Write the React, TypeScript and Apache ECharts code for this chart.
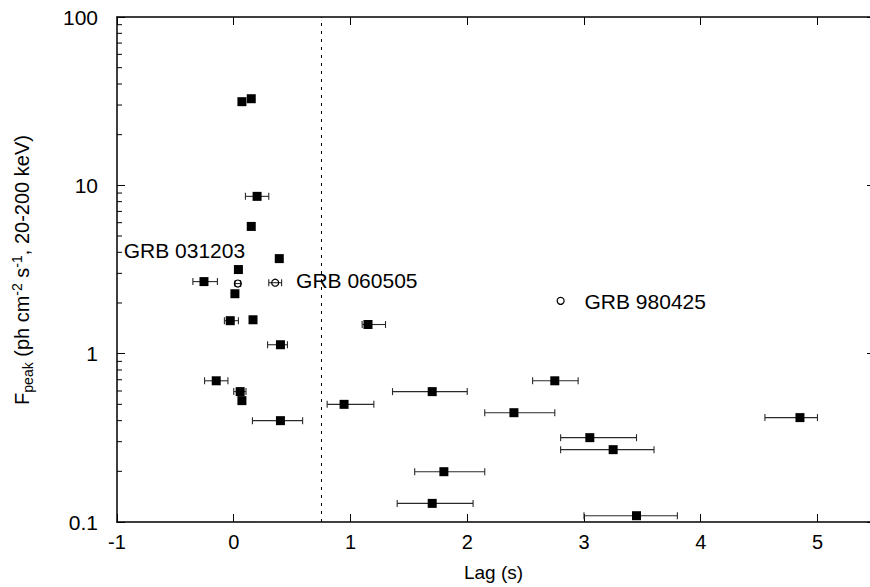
import React, { useEffect, useRef } from "react";
import * as echarts from "echarts";

// Bursts shown as filled squares: lag (s), peak flux, lag error range (null = no bar drawn)
const lag = [0.07, 0.15, 0.2, 0.15, 0.39, 0.04, -0.255, 0.01, -0.03, 0.165, 0.4, -0.15, 0.055, 0.07, 0.4, 1.15, 1.7, 0.945, 2.4, 1.8, 1.7, 2.75, 4.85, 3.05, 3.25, 3.45];
const flux = [31.4, 32.7, 8.6, 5.7, 3.67, 3.16, 2.68, 2.27, 1.57, 1.59, 1.13, 0.69, 0.595, 0.526, 0.4, 1.49, 0.595, 0.5, 0.446, 0.199, 0.129, 0.69, 0.417, 0.317, 0.269, 0.109];
const lagLo = [null, null, 0.1, null, null, null, -0.35, null, -0.08, null, 0.29, -0.25, 0.0, null, 0.16, 1.1, 1.36, 0.8, 2.15, 1.55, 1.4, 2.56, 4.55, 2.8, 2.8, 3.0];
const lagHi = [null, null, 0.3, null, null, null, -0.14, null, 0.04, null, 0.46, -0.05, 0.105, null, 0.59, 1.3, 2.0, 1.2, 2.75, 2.15, 2.05, 2.95, 5.0, 3.45, 3.6, 3.8];

// Named bursts shown as open circles
const grbNames = ["GRB 031203", "GRB 060505", "GRB 980425"];
const grbLag = [0.035, 0.355, 2.8];
const grbFlux = [2.61, 2.64, 2.06];
const grbLo = [0.012, 0.3, null];
const grbHi = [0.058, 0.41, null];

// Axis settings
const xTicks = [-1, 0, 1, 2, 3, 4, 5];
const xMax = 5.45;
const yTickLabels = ["0.1", "1", "10", "100"];
const minorTicks = [0.2, 0.3, 0.4, 0.5, 0.6, 0.7, 0.8, 0.9, 2, 3, 4, 5, 6, 7, 8, 9, 20, 30, 40, 50, 60, 70, 80, 90];
const dashedLag = 0.75;

const FONT = "Liberation Sans, Arial, sans-serif";

export default function App() {
  const ref = useRef<HTMLDivElement>(null);
  useEffect(() => {
    if (!ref.current) return;
    const chart = echarts.init(ref.current, null, { renderer: "svg" });

    const errData: any[] = [];
    lag.forEach((_, i) => {
      if (lagLo[i] != null && lagHi[i] != null) errData.push([lagLo[i], lagHi[i], flux[i]]);
    });
    grbLag.forEach((_, i) => {
      if (grbLo[i] != null && grbHi[i] != null) errData.push([grbLo[i], grbHi[i], grbFlux[i]]);
    });

    const labelPos: any[] = [[-110, -29], [25, 2], [28, 5]];

    const axisLine = { show: true, onZero: false, lineStyle: { color: "#000", width: 1.5 } };
    const tick = { show: true, inside: true, length: 8, lineStyle: { color: "#000", width: 1 } };

    chart.setOption({
      animation: false,
      backgroundColor: "#fff",
      grid: { left: 117, right: 0, top: 17, bottom: 65, containLabel: false },
      xAxis: [
        {
          type: "value",
          min: xTicks[0],
          max: xMax,
          interval: 1,
          position: "bottom",
          name: "Lag (s)",
          nameLocation: "middle",
          nameGap: 41,
          nameTextStyle: { fontFamily: FONT, fontSize: 19, color: "#000" },
          axisLine,
          axisTick: tick,
          axisLabel: { fontFamily: FONT, fontSize: 20, color: "#000", margin: 10, showMaxLabel: false },
          splitLine: { show: false },
        },
        {
          type: "value",
          min: xTicks[0],
          max: xMax,
          interval: 1,
          position: "top",
          axisLine,
          axisTick: tick,
          axisLabel: { show: false },
          splitLine: { show: false },
        },
      ],
      yAxis: [
        {
          type: "log",
          logBase: 10,
          min: Number(yTickLabels[0]),
          max: Number(yTickLabels[yTickLabels.length - 1]),
          position: "left",
          axisLine,
          axisTick: tick,
          axisLabel: { fontFamily: FONT, fontSize: 21, color: "#000", margin: 19, formatter: (v: number) => String(v) },
          splitLine: { show: false },
        },
        {
          type: "log",
          logBase: 10,
          min: Number(yTickLabels[0]),
          max: Number(yTickLabels[yTickLabels.length - 1]),
          position: "right",
          axisLine: { show: false, onZero: false },
          axisTick: { show: true, inside: true, length: 3, lineStyle: { color: "#000", width: 1 } },
          axisLabel: { show: false },
          splitLine: { show: false },
        },
      ],
      graphic: [
        {
          type: "text",
          x: 22,
          y: 270,
          rotation: Math.PI / 2,
          style: {
            text: "F{sub|peak} (ph cm{sup|-2} s{sup|-1}, 20-200 keV)",
            fontFamily: FONT,
            fontSize: 20,
            fill: "#000",
            align: "center",
            verticalAlign: "middle",
            rich: {
              sub: { fontFamily: FONT, fontSize: 14, fill: "#000", padding: [11, 0, 0, 0] },
              sup: { fontFamily: FONT, fontSize: 14, fill: "#000", padding: [0, 0, 11, 0] },
            },
          },
        },
      ],
      series: [
        {
          type: "custom",
          name: "minor ticks",
          xAxisIndex: 0,
          yAxisIndex: 0,
          silent: true,
          clip: false,
          data: minorTicks.map((v) => [xTicks[0], v]),
          renderItem: (params: any, api: any) => {
            const p = api.coord([api.value(0), api.value(1)]);
            return {
              type: "line",
              shape: { x1: p[0], y1: p[1], x2: p[0] + 5, y2: p[1] },
              style: { stroke: "#000", lineWidth: 1 },
            };
          },
        },
        {
          type: "custom",
          name: "lag errors",
          xAxisIndex: 0,
          yAxisIndex: 0,
          silent: true,
          encode: { x: [0, 1], y: 2 },
          data: errData,
          z: 3,
          renderItem: (params: any, api: any) => {
            const lo = api.coord([api.value(0), api.value(2)]);
            const hi = api.coord([api.value(1), api.value(2)]);
            const h = 3.5;
            const st = { stroke: "#2a2a2a", lineWidth: 1.1 };
            return {
              type: "group",
              children: [
                { type: "line", shape: { x1: lo[0], y1: lo[1], x2: hi[0], y2: hi[1] }, style: st },
                { type: "line", shape: { x1: lo[0], y1: lo[1] - h, x2: lo[0], y2: lo[1] + h }, style: st },
                { type: "line", shape: { x1: hi[0], y1: hi[1] - h, x2: hi[0], y2: hi[1] + h }, style: st },
              ],
            };
          },
        },
        {
          type: "scatter",
          name: "GRBs",
          xAxisIndex: 0,
          yAxisIndex: 0,
          symbol: "rect",
          symbolSize: 9,
          z: 4,
          itemStyle: { color: "#000", opacity: 1 },
          data: lag.map((x, i) => [x, flux[i]]),
          markLine: {
            silent: true,
            symbol: "none",
            label: { show: false },
            lineStyle: { color: "#000", width: 1, type: [3, 5] },
            data: [{ xAxis: dashedLag }],
          },
        },
        {
          type: "scatter",
          name: "Named GRBs",
          xAxisIndex: 0,
          yAxisIndex: 0,
          symbol: "circle",
          symbolSize: 7,
          z: 4,
          itemStyle: { color: "rgba(0,0,0,0)", borderColor: "#000", borderWidth: 1.2, opacity: 1 },
          data: grbLag.map((x, i) => ({
            name: grbNames[i],
            value: [x, grbFlux[i]],
            label: {
              show: true,
              position: labelPos[i],
              align: "left",
              verticalAlign: "middle",
              formatter: "{b}",
              fontFamily: FONT,
              fontSize: 21,
              color: "#000",
            },
          })),
        },
      ],
    });
    return () => chart.dispose();
  }, []);
  return <div ref={ref} style={{ width: 870, height: 587, position: "absolute", left: 0, top: 0 }} />;
}
